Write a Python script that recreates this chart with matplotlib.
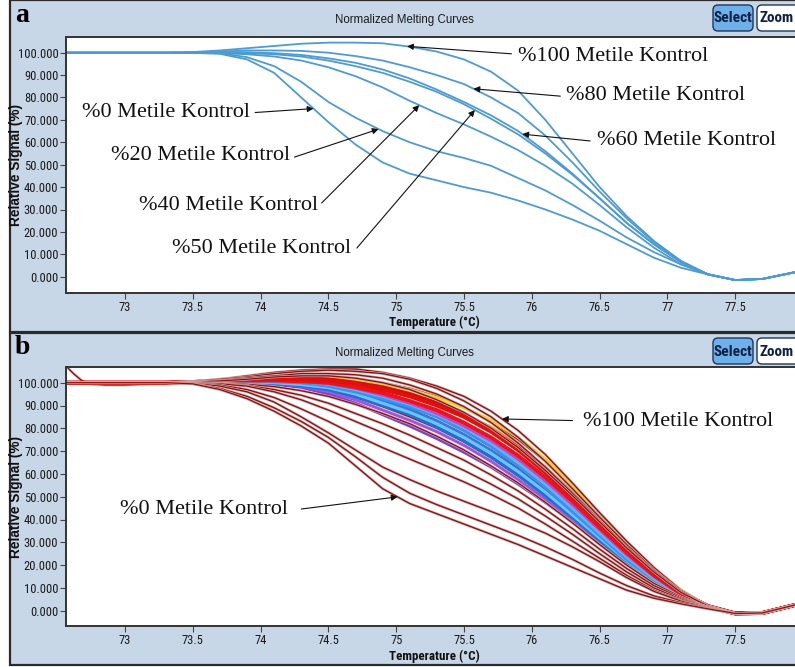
import os
import matplotlib
matplotlib.use("Agg")
import matplotlib.pyplot as plt
from matplotlib import font_manager as fm
from matplotlib.font_manager import FontProperties
from matplotlib.patches import Rectangle, FancyBboxPatch
import numpy as np

# ---------------------------------------------------------------- data
# temperature sample points (deg C) shared by all curves
TEMP = [72.57, 73.0, 73.3, 73.5, 73.7, 73.9, 74.1, 74.3, 74.5, 74.7, 74.9, 75.1, 75.3,
        75.5, 75.7, 75.9, 76.1, 76.3, 76.5, 76.7, 76.9, 77.1, 77.3, 77.5, 77.7, 77.94]

# panel a: methylation controls
A_100 = [100, 100, 100, 100.3, 101, 102, 103, 104, 104.5, 104.5, 104.2, 102.7, 100.5, 97, 91.5,
         83, 70, 55, 40, 27, 16, 7, 1, -1.5, -1, 2]
A_80 = [100, 100, 100, 100.2, 100.5, 101, 101, 100.8, 100, 98.5, 96.5, 93.5, 90, 86, 80,
        73, 63, 51, 38, 26, 15.5, 7, 1, -1.5, -1, 2]
A_60 = [100, 100, 100, 100, 100.2, 100.2, 99.8, 99, 97.5, 95.5, 92.5, 88.5, 83.5, 78, 72,
        65, 56, 46, 35, 24, 14.5, 6.5, 1, -1.5, -1, 2]
A_50 = [100, 100, 100, 100, 100, 99.8, 99.3, 98.3, 96.5, 94, 91, 87, 82.5, 77, 70.5,
        63.5, 55, 45.5, 35, 24, 14.5, 6.5, 1, -1.5, -1, 2]
A_40 = [100, 100, 100, 100, 99.8, 99.3, 98.3, 96.5, 93.5, 89.5, 84.5, 78.5, 73, 68, 62.5,
        56.5, 49.5, 41.5, 32, 22, 13, 5.5, 1, -1.5, -1, 2]
A_20 = [100, 100, 100, 100, 99.8, 98, 94, 87, 78, 71, 65, 60, 56, 53, 49.5,
        44, 38.5, 32, 25, 17.5, 11, 5.5, 1.2, -1.5, -1, 2]
A_0 = [100, 100, 100, 99.9, 99.5, 97, 91, 80, 69, 59, 51, 46, 43, 40, 37.5,
       34, 30, 25.5, 20.5, 14.5, 8.5, 4, 1, -1.5, -1, 2]
A_CURVES = [A_100, A_80, A_60, A_50, A_40, A_20, A_0]

# panel b: brown traces that run through the coloured cluster (drawn underneath)
B_BROWN_INNER = [
    [100, 100, 100, 100.2, 100.5, 101, 101.5, 101.5, 101, 100, 98, 95, 91, 85.5, 78.5, 70, 60, 49, 37.5, 26.5, 16.5, 8, 2, -1.2, -1, 2.5],
    [100, 100, 100, 100, 100.3, 100.5, 100.5, 100, 99, 97, 94.5, 91, 86.5, 81, 74, 66, 56.5, 46, 35, 24.5, 15, 7.5, 2, -1.2, -1, 2.5],
    [100, 100, 100, 100, 100, 100, 99.5, 98.5, 97, 94.5, 91, 87, 82, 76, 69, 61, 52, 42.5, 32.5, 22.5, 14, 7, 1.8, -1.2, -1, 2.5],
    [100, 100, 100, 100.3, 100.8, 101.3, 101.5, 101, 100, 98, 95, 91.5, 87, 81.5, 75, 67, 58, 47.5, 36.5, 25.5, 15.5, 7.5, 1.8, -1.2, -1, 2.5],
    [100, 100, 100, 100.2, 100.5, 100.7, 100.5, 99.8, 98.5, 96, 92.5, 88.5, 83.5, 77.5, 70.5, 62.5, 53, 43, 32.5, 22.5, 13.5, 6.5, 1.5, -1.2, -1, 2.5],
    [100, 100, 100, 100.4, 101.2, 102, 102.8, 103, 102.8, 101.8, 100, 97.5, 94, 89, 83, 75, 65.5, 54, 41.5, 29.5, 18, 8.5, 2, -1.2, -1, 2.5],
    [100, 100, 100, 100, 100.2, 100.2, 99.6, 98.3, 96.5, 93.5, 89.5, 85, 80, 74, 67, 59, 50.5, 41, 31, 21.5, 13, 6, 1.5, -1.2, -1, 2.5],
]

# panel b: brown traces above and below the cluster
B_BROWN_OUTER = [
    [100, 100, 100, 100.5, 101.5, 103, 104.5, 105.5, 106, 106, 104.5, 102, 98.5, 94, 87.5, 79, 68.5, 56, 43, 30.5, 19, 9, 2, -1.2, -1, 2.5],
    [100, 100, 100, 100.5, 101.5, 102.5, 104, 105, 105.5, 105, 104, 101.5, 97.5, 92, 85, 76, 65.5, 53.5, 41, 29, 18, 8.5, 2, -1.2, -1, 2.5],
    [100, 100, 100, 100.3, 101, 102, 103, 104, 104, 103.5, 102, 99, 95, 89.5, 82.5, 73.5, 63, 51.5, 39.5, 28, 17.5, 8.5, 2, -1.2, -1, 2.5],
    [100, 100, 100, 100.2, 100.8, 101.5, 102.5, 103, 103, 102, 100, 97, 92.5, 87, 80, 71.5, 61.5, 50.5, 39, 27.5, 17, 8, 2, -1.2, -1, 2.5],
    [100, 100, 100, 100, 99.8, 99.3, 98.3, 96.5, 94, 90.5, 86.5, 82, 76.5, 70.5, 63.5, 56, 47.5, 38.5, 29, 20, 12, 6, 1.5, -1.2, -1, 2.5],
    [100, 100, 100, 100, 99.7, 98.8, 97, 94.5, 91, 86.5, 82, 77, 71.5, 66, 59.5, 52.5, 44.5, 36, 27, 18.5, 11, 5.5, 1.5, -1.2, -1, 2.5],
    [100, 100, 100, 100, 99.5, 98.5, 96, 92.5, 88, 83, 78, 72.5, 67, 61.5, 55.5, 49, 41.5, 33.5, 25, 17, 10, 5, 1.5, -1.2, -1, 2.5],
    [100, 100, 100, 99.8, 99, 97, 93.5, 88.5, 83, 77, 71.5, 66.5, 61.5, 56.5, 51, 45, 38, 30.5, 23, 15.5, 9, 4.5, 1.2, -1.2, -1, 2.5],
    [100, 100, 100, 99.7, 98.5, 96, 91.5, 85, 78, 70.5, 63, 57.5, 52.5, 48, 43.5, 39, 34, 28, 21.5, 14.5, 8.5, 4.2, 1.2, -1.2, -1, 2.5],
    [100, 100, 100, 99.6, 97.5, 94, 89, 83, 76, 67.5, 58.5, 51.5, 46.5, 42, 37.5, 33, 28, 22.5, 16.5, 11, 6.5, 3.5, 1, -1.2, -1, 2.5],
    [100, 100, 100, 99.5, 97, 93, 87.5, 81, 73.5, 63.5, 53.5, 47, 42.5, 38, 33.5, 29, 24, 19, 14, 9, 5.5, 3, 0.8, -1.2, -1, 2.5],
]
# start-up transient at the beginning of one brown trace
SPIKE_T = [72.57, 72.62, 72.68, 72.74, 72.85, 73.0, 73.2, 73.35, 73.5]
SPIKE_Y = [107, 104, 101, 99.5, 99, 99, 99.5, 100, 100.2]

# coloured samples, listed in drawing order: (colour, line width, values)
B_COLOURED = [
    ("#7b3fd6", 2.2, [100, 100, 100, 100, 100.1, 100, 99.3, 98, 95, 91, 86, 81, 75.5, 69.5, 63, 55.5, 47.5, 39, 30, 21, 12.5, 6, 1.5, -1.2, -1, 2.5]),
    ("#9b59d9", 2.2, [100, 100, 100, 100, 100.2, 100.2, 99.7, 98.5, 96, 92.5, 88, 83.5, 78.5, 72.5, 65.5, 57.5, 49, 40, 30.5, 21, 12.5, 6, 1.5, -1.2, -1, 2.5]),
    ("#1f6fd6", 2.4, [100, 100, 100, 100.1, 100.3, 100.3, 99.8, 98.8, 97, 94, 90, 86, 80.5, 74.5, 67.5, 59.5, 50.5, 41, 31, 21, 12.5, 6, 1.5, -1.2, -1, 2.5]),
    ("#2a7de1", 2.4, [100, 100, 100, 100.2, 100.5, 100.6, 100.4, 99.5, 98, 95.5, 92, 88, 83, 77, 70, 61.5, 52, 42, 31.5, 21.5, 13, 6, 1.5, -1.2, -1, 2.5]),
    ("#6ec3f5", 2.2, [100, 100, 100, 100.1, 100.4, 100.4, 100, 99.2, 97.8, 95, 91, 87, 82, 76, 69, 61, 52, 42, 32, 22, 13, 6, 1.5, -1.2, -1, 2.5]),
    ("#3b8ff0", 2.4, [100, 100, 100, 100.2, 100.5, 100.7, 100.5, 100, 98.5, 96, 93, 89.5, 85, 79, 72, 63.5, 54, 43.5, 33, 22.5, 13.5, 6.5, 1.5, -1.2, -1, 2.5]),
    ("#5ab4f2", 2.2, [100, 100, 100, 100.2, 100.6, 100.9, 100.9, 100.5, 99.3, 97, 94, 90.5, 86, 80.5, 73.5, 65, 55.5, 45, 34, 23.5, 14, 6.5, 1.6, -1.2, -1, 2.5]),
    ("#d23fc0", 2.0, [100, 100, 100, 100.2, 100.6, 101, 101, 100.5, 99.5, 97.5, 94.5, 91, 86.5, 81, 74.5, 66.5, 57, 46.5, 35.5, 24.5, 15, 7, 1.8, -1.2, -1, 2.5]),
    ("#ff8a00", 2.0, [100, 100, 100, 100.3, 100.8, 101.5, 102, 102, 101.5, 100.5, 98.5, 95.5, 91.5, 86.5, 80.5, 72.5, 63, 52, 40, 28, 17, 8, 2, -1.2, -1, 2.5]),
    ("#f2d21b", 2.2, [100, 100, 100, 100.3, 101, 101.8, 102.3, 102.6, 102.5, 101.5, 99.5, 97, 93.5, 89, 83.5, 76, 66.5, 55, 42.5, 30, 18.5, 9, 2, -1.2, -1, 2.5]),
    ("#e8161a", 2.8, [100, 100, 100, 100.2, 100.6, 101, 101, 100.6, 100, 98, 95.5, 92, 88, 82.5, 76, 68, 58.5, 48, 36.5, 25.5, 15.5, 7.5, 1.8, -1.2, -1, 2.5]),
    ("#d40c0c", 2.8, [100, 100, 100, 100.3, 101, 101.6, 102, 102, 101.5, 100, 98, 95, 91, 86, 79.5, 71.5, 62, 51, 39, 27.5, 17, 8, 2, -1.2, -1, 2.5]),
    ("#e01010", 2.8, [100, 100, 100, 100.3, 100.8, 101.3, 101.6, 101.5, 101, 99.5, 97, 94, 90, 85, 78.5, 70.5, 61, 50, 38.5, 27, 16.5, 8, 2, -1.2, -1, 2.5]),
]

Y_TICKS = [0, 10, 20, 30, 40, 50, 60, 70, 80, 90, 100]
X_TICKS = [73, 73.5, 74, 74.5, 75, 75.5, 76, 76.5, 77, 77.5]

# ---------------------------------------------------------------- fonts
_FILES = {os.path.basename(f.fname).lower(): f.fname for f in fm.fontManager.ttflist}


def _find(names):
    for n in names:
        if n.lower() in _FILES:
            return _FILES[n.lower()]
    return None


_NARROW_REG = _find(["LiberationSansNarrow-Regular.ttf", "NotoSans-Condensed.ttf",
                     "NotoSans-SemiCondensed.ttf", "RobotoCondensed-Regular.ttf",
                     "DejaVuSansCondensed.ttf"])
_NARROW_BOLD = _find(["LiberationSansNarrow-Bold.ttf", "NotoSans-CondensedBold.ttf",
                      "NotoSans-SemiCondensedBold.ttf", "RobotoCondensed-Bold.ttf",
                      "DejaVuSansCondensed-Bold.ttf"])


def narrow(size, bold=False):
    fn = _NARROW_BOLD if bold else _NARROW_REG
    if fn:
        return FontProperties(fname=fn, size=size)
    return FontProperties(family=["Liberation Sans", "DejaVu Sans"],
                          weight="bold" if bold else "normal", size=size * 0.84)


SANS = ["Liberation Sans", "DejaVu Sans"]
SERIF = ["Liberation Serif", "DejaVu Serif"]

# ---------------------------------------------------------------- styling
W, H = 795, 667
FRAME = "#c8d7e7"
EDGE = "#2a2a2a"
LINE_A = "#4d9bd1"
BROWN = "#7e1414"
BROWN_HALO = "#d8a3a3"

fig = plt.figure(figsize=(W / 100, H / 100), dpi=100)
fig.patch.set_facecolor("white")

# background layer in pixel coordinates
bg = fig.add_axes([0, 0, 1, 1], zorder=0)
bg.set_xlim(0, W)
bg.set_ylim(H, 0)
bg.axis("off")

# overlay for buttons and panel letters
top = fig.add_axes([0, 0, 1, 1], zorder=10)
top.set_xlim(0, W)
top.set_ylim(H, 0)
top.axis("off")
top.patch.set_visible(False)


def frame(y0, y1, letter):
    bg.add_patch(Rectangle((10, y0), 800, y1 - y0, facecolor=FRAME, edgecolor=EDGE, lw=1.6))
    top.text(15, y0 + 15, letter, fontsize=20, fontweight="bold", family=SERIF,
             ha="left", va="center", color="black")
    top.text(404, y0 + 20, "Normalized Melting Curves", ha="center", va="center",
             color="#1a1a1a", fontproperties=FontProperties(family=SANS, size=8.3))
    top.add_patch(FancyBboxPatch((713, y0 + 5), 40, 26, boxstyle="round,pad=0,rounding_size=5",
                                 facecolor="#6eb0ea", edgecolor="#1d3557", lw=1.0))
    top.text(733, y0 + 18.5, "Select", ha="center", va="center", color="#0f1f45",
             fontproperties=narrow(11, True))
    top.add_patch(FancyBboxPatch((757, y0 + 5), 45, 26, boxstyle="round,pad=0,rounding_size=5",
                                 facecolor="white", edgecolor="#1d3557", lw=1.0))
    top.text(776.5, y0 + 18.5, "Zoom", ha="center", va="center", color="#0f1f45",
             fontproperties=narrow(11, True))


def plot_axes(top_px, bottom_px, y_at_100, y_at_0, xlabel_px):
    left_px, right_px = 66, 797
    ax = fig.add_axes([left_px / W, 1 - bottom_px / H, (right_px - left_px) / W,
                       (bottom_px - top_px) / H], zorder=5)
    ppd = (735.2 - 125.0) / 4.5
    ax.set_xlim(73 + (left_px - 125) / ppd, 73 + (right_px - 125) / ppd)
    ppy = (y_at_0 - y_at_100) / 100.0
    ax.set_ylim((y_at_0 - bottom_px) / ppy, (y_at_0 - top_px) / ppy)
    ax.set_facecolor("white")
    for s in ("left", "bottom", "top"):
        ax.spines[s].set_color("#333333")
        ax.spines[s].set_linewidth(1.4)
    ax.spines["right"].set_visible(False)
    tick_fp = narrow(9.0)
    ax.set_xticks(X_TICKS, labels=[f"{v:g}" for v in X_TICKS], fontproperties=tick_fp)
    ax.set_yticks(Y_TICKS, labels=[f"{v:.3f}" for v in Y_TICKS], fontproperties=tick_fp)
    ax.tick_params(axis="both", direction="out", length=4, width=0.8, color="#444444",
                   labelcolor="#1a1a1a", pad=1.5)
    ax.set_xlabel("Temperature (\u00b0C)", fontproperties=narrow(9.4, True), color="#111111")
    ax.xaxis.label.set_va("center")
    ax.xaxis.set_label_coords((434 - left_px) / (right_px - left_px),
                              -(xlabel_px - bottom_px) / (bottom_px - top_px))
    ax.set_ylabel("Relative Signal (%)", color="#111111",
                  fontproperties=FontProperties(family=SANS, weight="bold", size=9.8))
    ax.yaxis.label.set_va("center")
    ax.yaxis.set_label_coords((16 - left_px) / (right_px - left_px), 0.5)
    return ax


def label(ax, text, xy_text, tail, tip_t, curve):
    tip = (tip_t, float(np.interp(tip_t, TEMP, curve)))
    ax.text(xy_text[0], xy_text[1], text, fontsize=16, family=SERIF, ha="left",
            va="center", color="#111111", clip_on=False, zorder=20)
    ax.annotate("", xy=tip, xytext=tail, annotation_clip=False, zorder=20,
                arrowprops=dict(arrowstyle="-|>", color="#111111", lw=0.8,
                                mutation_scale=9, shrinkA=0, shrinkB=0))


def brown_trace(ax, t, y):
    ax.plot(t, y, color=BROWN_HALO, lw=1.9, solid_joinstyle="round")
    ax.plot(t, y, color=BROWN, lw=0.9, solid_joinstyle="round")


# ---------------------------------------------------------------- panel a
frame(0, 332, "a")
ax_a = plot_axes(37, 293, 52.7, 276.7, 322)
for curve in A_CURVES:
    ax_a.plot(TEMP, curve, color=LINE_A, lw=1.3, solid_joinstyle="round")

label(ax_a, "%100 Metile Kontrol", (75.90, 98.5), (75.85, 99.5), 75.08, A_100)
label(ax_a, "%80 Metile Kontrol", (76.25, 80.7), (76.21, 80.6), 75.57, A_80)
label(ax_a, "%60 Metile Kontrol", (76.48, 60.6), (76.43, 60.6), 75.93, A_60)
label(ax_a, "%0 Metile Kontrol", (72.68, 73.1), (73.96, 73.3), 74.39, A_0)
label(ax_a, "%20 Metile Kontrol", (72.90, 53.9), (74.25, 53.4), 74.87, A_20)
label(ax_a, "%40 Metile Kontrol", (73.10, 32.0), (74.45, 32.9), 75.17, A_40)
label(ax_a, "%50 Metile Kontrol", (73.35, 12.4), (74.71, 12.8), 75.58, A_50)

# ---------------------------------------------------------------- panel b
frame(333, 665, "b")
ax_b = plot_axes(367, 626, 382.7, 610.7, 656)

for i, curve in enumerate(B_BROWN_INNER):
    if i == 0:
        brown_trace(ax_b, SPIKE_T + TEMP[4:], SPIKE_Y + curve[4:])
    else:
        brown_trace(ax_b, TEMP, curve)
for colour, width, curve in B_COLOURED:
    ax_b.plot(TEMP, curve, color=colour, lw=width, solid_joinstyle="round")
for curve in B_BROWN_OUTER:
    brown_trace(ax_b, TEMP, curve)

label(ax_b, "%100 Metile Kontrol", (76.38, 83.2), (76.30, 83.4), 75.78, B_BROWN_OUTER[0])
label(ax_b, "%0 Metile Kontrol", (72.96, 44.6), (74.30, 44.6), 75.01, B_BROWN_OUTER[-1])

fig.savefig("out.png", dpi=100, facecolor="white")
